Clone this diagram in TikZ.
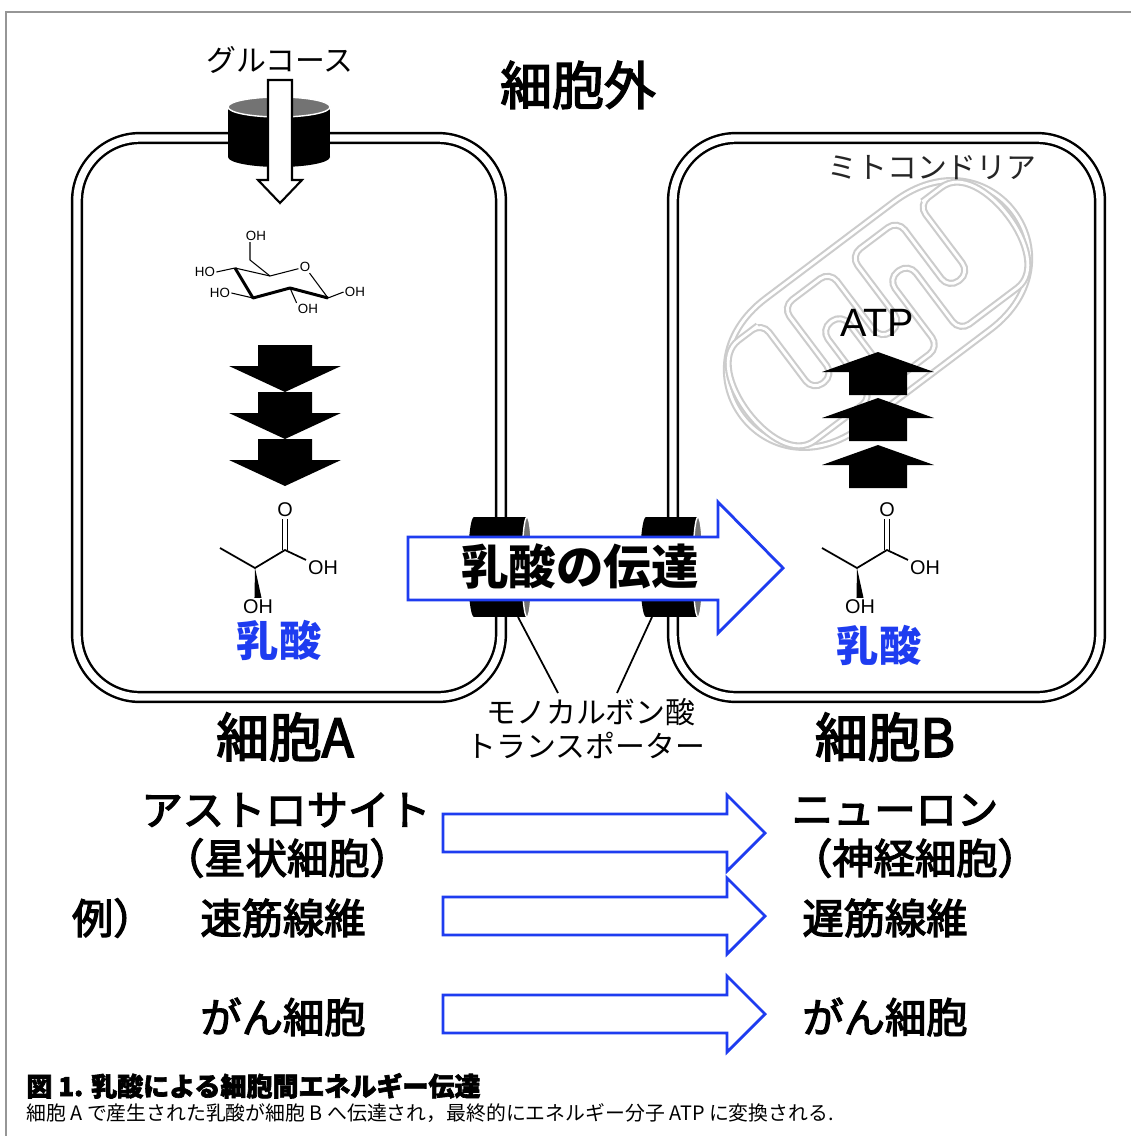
\documentclass[tikz,border=0pt]{standalone}
\usepackage{fontspec}
\setmainfont{Noto Sans CJK JP}
\newfontfamily\halfwidth{Noto Sans CJK JP}[RawFeature=+halt, FakeBold=3]
\newfontfamily\jpmedium{Noto Sans CJK JP}[FakeBold=3]
\newfontfamily\jpheavy{Noto Sans CJK JP}[FakeBold=2.5]
\newfontfamily\latinsans{Liberation Sans}
\usetikzlibrary{arrows.meta, positioning}

\definecolor{lacblue}{RGB}{30,60,240}
\definecolor{framegray}{RGB}{150,150,150}

% half-width brackets for the cell names
\newcommand{\hlp}{{\halfwidth （}}
\newcommand{\hrp}{{\halfwidth ）}}

\tikzset{
  membrane/.style={line width=1.4pt, double=white, double distance=4.2pt, rounded corners=1.26cm},
  mito/.style={draw=black!20, line width=1.2pt, double=white, double distance=1.6pt},
  bond/.style={line width=1pt},
  atom/.style={font=\latinsans\fontsize{11.3}{12}\selectfont, inner sep=1pt},
  sugar/.style={font=\latinsans\fontsize{7.6}{8}\selectfont, inner sep=0.6pt},
  thinlabel/.style={font=\fontsize{17}{19}\selectfont},
  celllabel/.style={font=\jpmedium\fontsize{30}{32}\selectfont},
  rowlabel/.style={font=\jpmedium\fontsize{23.5}{26}\selectfont},
  lactext/.style={font=\bfseries\fontsize{24}{26}\selectfont, text=lacblue},
  blockarrow/.style={draw=lacblue, fill=white, line width=1.6pt, line join=miter},
  lactate/.pic={
    \coordinate (-ca) at (0,0);
    \coordinate (-cm) at (-35,-20);
    \coordinate (-cc) at (30,-18);
    \node[atom] (-o) at (30,-58) {O};
    \node[atom] (-oh) at (68,0) {OH};
    \node[atom] (-ho) at (3,39) {OH};
    \draw[bond] (-cm) -- (-ca) -- (-cc) -- (-oh);
    \draw[bond] ([xshift=-1.4pt]-cc) -- ([xshift=-1.4pt]-o.south);
    \draw[bond] ([xshift=1.4pt]-cc) -- ([xshift=1.4pt]-o.south);
    \fill (-ca) -- ([xshift=-2pt]-ho.north) -- ([xshift=2pt]-ho.north) -- cycle;
  }
}

\begin{document}
\begin{tikzpicture}[x=0.02cm, y=-0.02cm, >=Stealth]
  \useasboundingbox[fill=white] (0,0) rectangle (1131,1136);
  \draw[framegray, line width=0.6pt] (6,1136) -- (6,12) -- (1131,12);

  % the two cells
  \draw[membrane] (77,138) rectangle (501,697);
  \draw[membrane] (673,138) rectangle (1100,697);

  % mitochondrion with cristae
  \begin{scope}[shift={(878,314)}, rotate=37]
    \draw[mito] (-80,-80) -- (80,-80) .. controls (200,-80) and (200,80) .. (80,80)
      -- (-80,80) .. controls (-200,80) and (-200,-80) .. (-80,-80) -- cycle;
    \draw[mito, rounded corners=0.24cm] (-40,-63) -- (-13,-63) -- (-13,22) -- (13,22) -- (13,-63)
      -- (72,-63) -- (72,22) -- (98,22) -- (98,-63) -- (115,-63)
      .. controls (175,-63) and (175,63) .. (115,63)
      -- (55,63) -- (55,-22) -- (29,-22) -- (29,63) -- (-29,63) -- (-29,-22) -- (-55,-22) -- (-55,63)
      -- (-115,63) .. controls (-175,63) and (-175,-63) .. (-115,-63)
      -- (-98,-63) -- (-98,22) -- (-72,22) -- (-72,-63) -- cycle;
  \end{scope}

  % glucose transporter
  \fill (279,157) ellipse [x radius=51, y radius=10];
  \fill (228,107) rectangle (330,157);
  \filldraw[fill=black!55, draw=white, line width=0.8pt] (279,107) ellipse [x radius=51, y radius=10];
  \filldraw[fill=white, draw=black, line width=1.2pt] (268,80) -- (292,80) -- (292,180) -- (302,180)
    -- (280,203) -- (258,180) -- (268,180) -- cycle;
  \node[thinlabel] (glc) at (280,60) {グルコース};

  % glucose
  \coordinate (c1) at (328,298);
  \coordinate (c2) at (290,288);
  \coordinate (c3) at (253,298);
  \coordinate (c4) at (235,268);
  \coordinate (c5) at (270,276);
  \coordinate (c6) at (250,260);
  \node[sugar] (ro) at (305,267) {O};
  \node[sugar] (oh6) at (256,236) {OH};
  \node[sugar] (oh4) at (205,272) {HO};
  \node[sugar] (oh3) at (220,293) {HO};
  \node[sugar] (oh2) at (308,309) {OH};
  \node[sugar] (oh1) at (355,292) {OH};
  \draw[line width=0.6pt] (oh4.east) -- (c4) -- (c5) -- (ro) -- (c1) -- (oh1.west);
  \draw[line width=0.6pt] (c5) -- (c6) -- (c6 |- oh6.south);
  \draw[line width=0.6pt] (oh3.east) -- (c3);
  \draw[line width=0.6pt] (c2) -- (oh2.north west);
  \draw[line width=1.7pt, line join=round] (c4) -- (c3) -- (c2) -- (c1);

  % glycolysis arrows
  \foreach \t in {345,392,439}
    \fill (258,\t) -- (312,\t) -- (312,\t+21) -- (341,\t+21) -- (285,\t+47) -- (229,\t+21) -- (258,\t+21) -- cycle;

  % ATP production arrows
  \foreach \t in {352,398,445}
    \fill (878,\t) -- (934,\t+20) -- (907,\t+20) -- (907,\t+43) -- (849,\t+43) -- (849,\t+20) -- (822,\t+20) -- cycle;
  \node[font=\latinsans\fontsize{22.5}{24}\selectfont] (atp) at (877,323) {ATP};
  \node[thinlabel, text=black!85] (mitolabel) at (932,168) {ミトコンドリア};

  % lactate
  \pic (lacmolA) at (255,568) {lactate};
  \pic (lacmolB) at (857,568) {lactate};
  \node[lactext] (lacA) at (279,640) {乳酸};
  \node[lactext] (lacB) at (879,645) {乳酸};

  % monocarboxylate transporters
  \fill (474,517) rectangle (527,617);
  \fill (474,567) ellipse [x radius=6, y radius=50];
  \filldraw[fill=black!55, draw=white, line width=0.8pt] (527,567) ellipse [x radius=5, y radius=50];
  \fill (646,517) rectangle (698,617);
  \fill (646,567) ellipse [x radius=6, y radius=50];
  \filldraw[fill=black!55, draw=white, line width=0.8pt] (698,567) ellipse [x radius=5, y radius=50];

  \filldraw[blockarrow] (408,537) -- (718,537) -- (718,502) -- (783,568) -- (718,633) -- (718,600)
    -- (408,600) -- cycle;
  \node[font=\bfseries\fontsize{27}{29}\selectfont] (flow) at (580,566) {乳酸の伝達};

  \coordinate (mctA) at (518,617);
  \coordinate (mctB) at (652,617);
  \coordinate (mctAend) at (558,693);
  \coordinate (mctBend) at (617,693);
  \draw[line width=1pt] (mctA) -- (mctAend);
  \draw[line width=1pt] (mctB) -- (mctBend);
  \node[thinlabel] (mct1) at (591,712) {モノカルボン酸};
  \node[thinlabel] (mct2) at (586,745) {トランスポーター};

  \node[font=\jpmedium\fontsize{29.5}{31}\selectfont] (ext) at (578,85) {細胞外};
  \node[celllabel] (cellA) at (285,737) {細胞A};
  \node[celllabel] (cellB) at (885,737) {細胞B};

  % examples
  \foreach \cy in {833,916,1014}
    \filldraw[blockarrow] (443,\cy-19) -- (727,\cy-19) -- (727,\cy-38) -- (765,\cy) -- (727,\cy+38)
      -- (727,\cy+19) -- (443,\cy+19) -- cycle;
  \node[rowlabel] (astro) at (286,810) {アストロサイト};
  \node[rowlabel] (astro2) at (287,858) {\hlp 星状細胞\hrp};
  \node[rowlabel] (neuron) at (895,810) {ニューロン};
  \node[rowlabel] (neuron2) at (915,858) {\hlp 神経細胞\hrp};
  \node[rowlabel] (ex) at (103,918) {例\hrp};
  \node[rowlabel] (fast) at (283,918) {速筋線維};
  \node[rowlabel] (slow) at (885,918) {遅筋線維};
  \node[rowlabel] (cancerA) at (283,1017) {がん細胞};
  \node[rowlabel] (cancerB) at (885,1017) {がん細胞};

  % caption
  \node[anchor=base west, inner sep=0pt, font=\jpheavy\bfseries\fontsize{14.8}{16}\selectfont] (captitle) at (26,1096)
    {図 1. 乳酸による細胞間エネルギー伝達};
  \node[anchor=base west, inner sep=0pt, font=\fontsize{11.3}{13}\selectfont] (capbody) at (26,1120)
    {細胞 A で産生された乳酸が細胞 B へ伝達され，最終的にエネルギー分子 ATP に変換される.};
\end{tikzpicture}
\end{document}
